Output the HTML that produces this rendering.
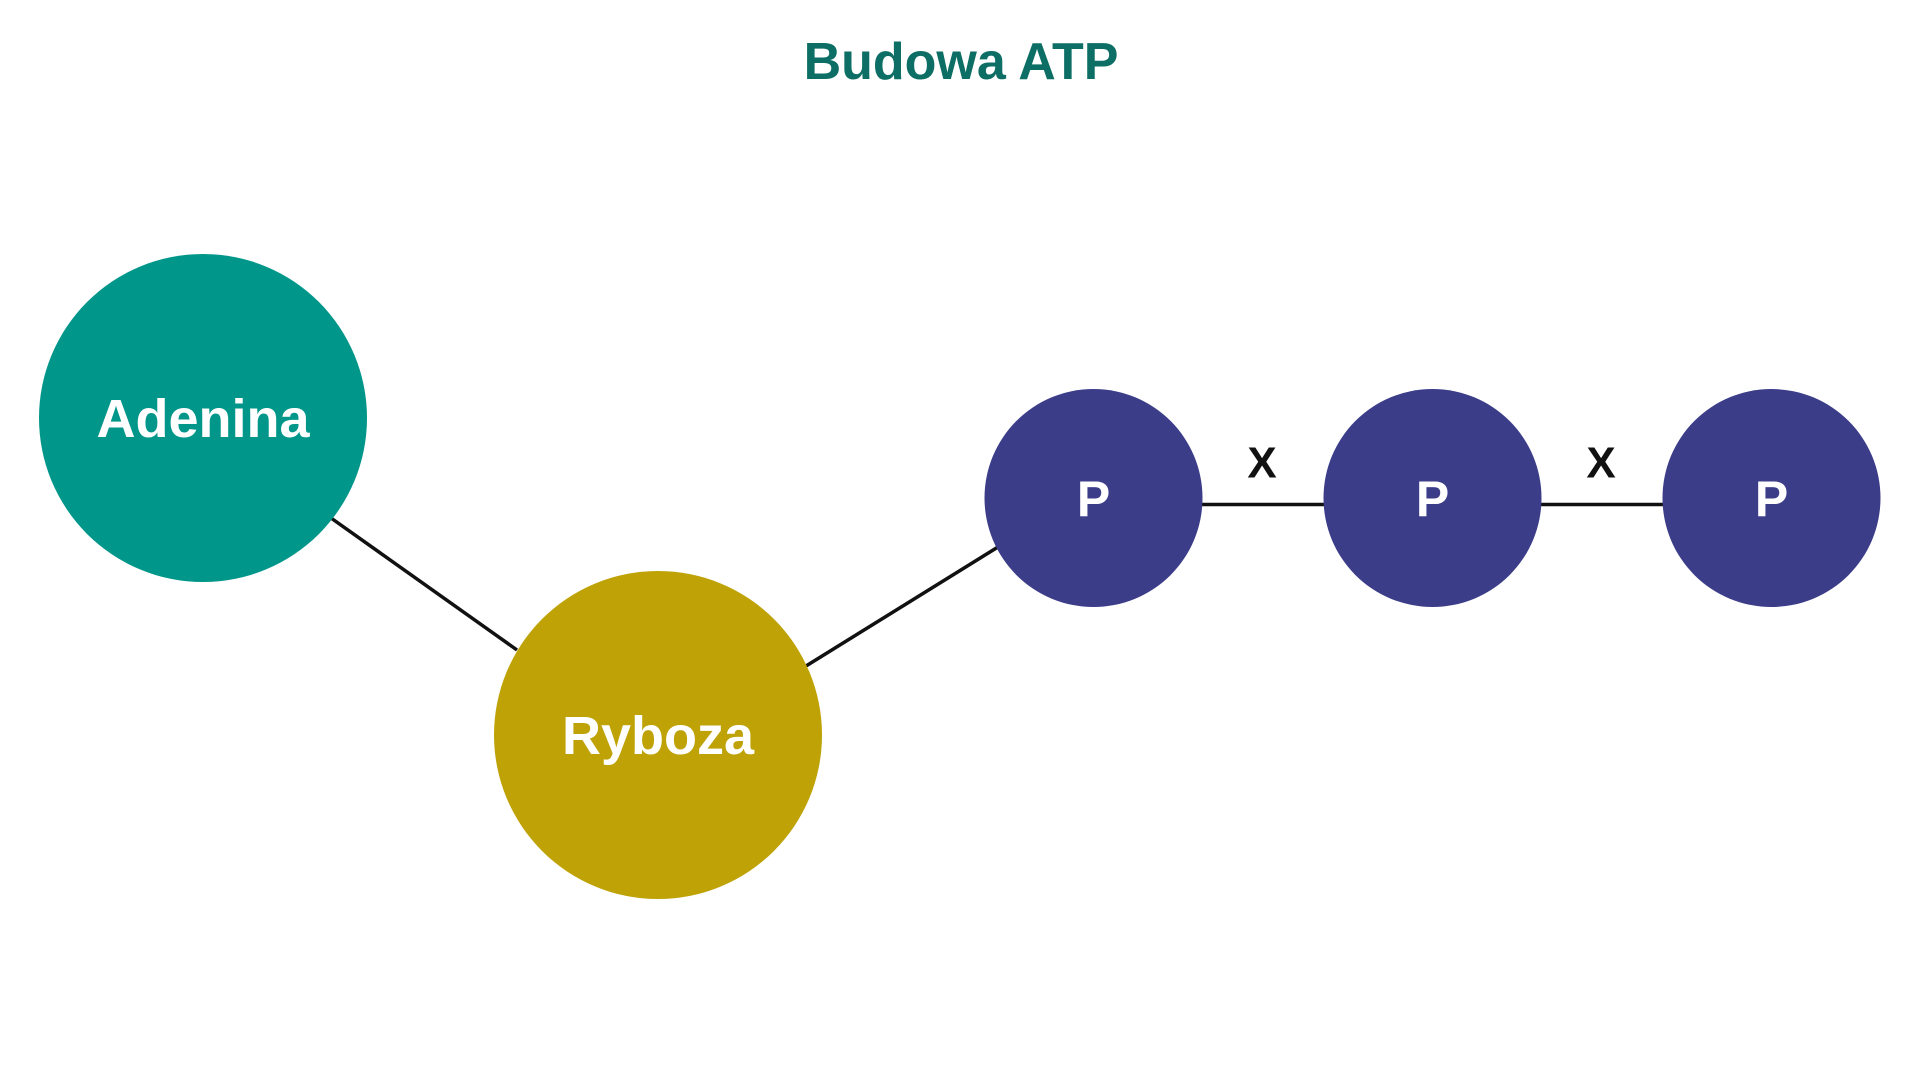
<!DOCTYPE html>
<html><head><style>
html,body{margin:0;padding:0;background:#fff;}
svg{display:block}
text{font-family:"Liberation Sans",sans-serif;font-weight:bold;text-anchor:middle;dominant-baseline:central}
</style></head><body>
<svg width="1920" height="1080" viewBox="0 0 1920 1080">
<rect width="1920" height="1080" fill="#fff"/>
<text x="961" y="62" font-size="52" fill="#0c6e64">Budowa ATP</text>
<g stroke="#111" stroke-width="3.5">
<line x1="331" y1="518" x2="517" y2="650"/>
<line x1="806" y1="666" x2="998" y2="547"/>
<line x1="1200" y1="504.5" x2="1326" y2="504.5"/>
<line x1="1539" y1="504.5" x2="1665" y2="504.5"/>
</g>
<circle cx="203" cy="418" r="164" fill="#01968a"/>
<circle cx="658" cy="735" r="164" fill="#bfa206"/>
<circle cx="1093.5" cy="498" r="109" fill="#3c3d89"/>
<circle cx="1432.5" cy="498" r="109" fill="#3c3d89"/>
<circle cx="1771.5" cy="498" r="109" fill="#3c3d89"/>
<text x="203" y="419" font-size="54" fill="#fff">Adenina</text>
<text x="658" y="736" font-size="54" fill="#fff">Ryboza</text>
<text x="1093.5" y="499" font-size="50" fill="#fff">P</text>
<text x="1432.5" y="499" font-size="50" fill="#fff">P</text>
<text x="1771.5" y="499" font-size="50" fill="#fff">P</text>
<text x="1262" y="463" font-size="44" fill="#111">X</text>
<text x="1601" y="463" font-size="44" fill="#111">X</text>
</svg>
</body></html>
